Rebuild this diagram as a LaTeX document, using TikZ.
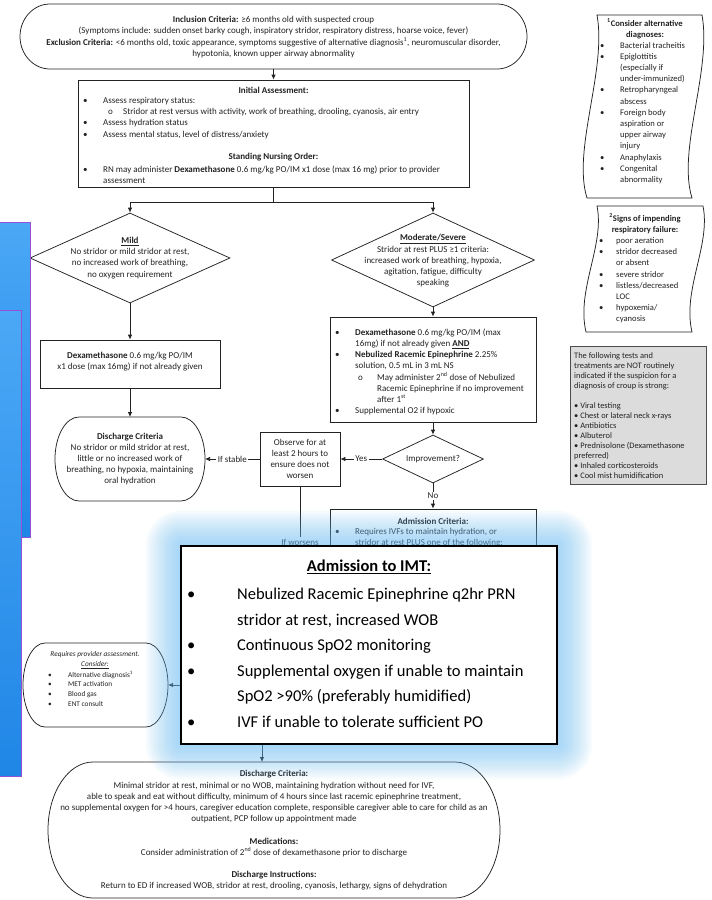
\documentclass[tikz,border=0pt]{standalone}
\usepackage{fontspec}
\setmainfont{Carlito}
\usetikzlibrary{arrows.meta,shapes.geometric,calc}

\definecolor{ink}{RGB}{35,35,35}
\definecolor{glowc}{RGB}{105,190,248}
\definecolor{panelTop}{RGB}{75,168,246}
\definecolor{panelBot}{RGB}{32,134,230}
\definecolor{purp}{RGB}{150,80,215}
\definecolor{notefill}{RGB}{220,220,220}

\newcommand\fcf{\fontsize{9}{11.2}\selectfont}
\newcommand\pnf{\fontsize{8.6}{11.2}\selectfont}
\newcommand\ntf{\fontsize{8.4}{10}\selectfont}
\newcommand\pvf{\fontsize{7.3}{9.6}\selectfont}
\newcommand\imf{\fontsize{16.5}{25.5}\selectfont}
\newcommand\bl[2][20pt]{\makebox[#1][l]{\textbullet}#2}

% terminator outline: name, x1, y1, x2, y2 (y measured downwards), end radius
\newcommand\stadium[6]{%
  \node[inner sep=0pt, outer sep=0pt, minimum width={#4-#2}, minimum height={#5-#3}]
    (#1) at ({(#2+#4)/2},{-(#3+#5)/2}) {};
  \draw[shapeline] ({#2+#6},{-#3}) -- ({#4-#6},{-#3})
    arc[start angle=90, end angle=-90, x radius=#6, y radius={(#5-#3)/2}]
    -- ({#2+#6},{-#5})
    arc[start angle=270, end angle=90, x radius=#6, y radius={(#5-#3)/2}] -- cycle;
}

\tikzset{
  shapeline/.style={draw=ink, line width=0.75pt, fill=white},
  conn/.style={draw=ink, line width=0.75pt},
  arr/.style={draw=ink, line width=0.75pt, -{Latex[length=5pt,width=4.5pt]}},
  fc/.style={font=\fcf, text=ink, inner sep=0pt, align=center},
  fcl/.style={font=\fcf, text=ink, inner sep=0pt, align=left},
  lab/.style={font=\fcf, text=ink, fill=white, inner sep=1.5pt},
  panelline/.style={draw=ink, line width=0.75pt, fill=white},
}

\begin{document}
\begin{tikzpicture}[x=1pt,y=1pt]
\useasboundingbox[fill=white] (0,0) rectangle (712,-900);

% ---------- inclusion / exclusion ----------
\stadium{incl}{20}{4}{527}{69}{30}
\node[fc] (inclt) at (273.5,-37) {\textbf{Inclusion Criteria:} ≥6 months old with suspected croup\\
(Symptoms include: sudden onset barky cough, inspiratory stridor, respiratory distress, hoarse voice, fever)\\
\textbf{Exclusion Criteria:} <6 months old, toxic appearance, symptoms suggestive of alternative diagnosis\textsuperscript{1}, neuromuscular disorder,\\
hypotonia, known upper airway abnormality};

% ---------- initial assessment ----------
\node[shapeline, minimum width=391pt, minimum height=107pt, inner sep=0pt] (init) at (273.5,-133.5) {};
\node[fc, font=\fcf\bfseries] (initt) at (273.5,-90) {Initial Assessment:};
\node[fcl, anchor=west] (initl) at (83,-118) {\bl{Assess respiratory status:}\\
\hspace*{25pt}\makebox[15pt][l]{o}Stridor at rest versus with activity, work of breathing, drooling, cyanosis, air entry\\
\bl{Assess hydration status}\\
\bl{Assess mental status, level of distress/anxiety}};
\node[fc, font=\fcf\bfseries] (snot) at (273.5,-157) {Standing Nursing Order:};
\node[fcl, anchor=west] (snol) at (83,-174.5) {\bl{RN may administer \textbf{Dexamethasone} 0.6 mg/kg PO/IM x1 dose (max 16 mg) prior to provider}\\
\hspace*{20pt}assessment};

% ---------- mild branch ----------
\node[shapeline, diamond, minimum width=200pt, minimum height=90pt, inner sep=0pt] (mild) at (130,-258) {};
\node[fc] (mildt) at (130,-258) {\textbf{\underline{Mild}}\\No stridor or mild stridor at rest,\\no increased work of breathing,\\no oxygen requirement};
\node[shapeline, minimum width=180pt, minimum height=48pt, inner sep=0pt] (mildbox) at (130,-364) {};
\node[fc] (mildboxt) at (130,-362) {\textbf{Dexamethasone} 0.6 mg/kg PO/IM\\x1 dose (max 16mg) if not already given};
\stadium{dis1}{55}{417}{205}{501}{24}
\node[fc] (dis1t) at (130,-459) {\textbf{Discharge Criteria}\\No stridor or mild stridor at rest,\\little or no increased work of\\breathing, no hypoxia, maintaining\\oral hydration};

% ---------- moderate / severe branch ----------
\node[shapeline, diamond, minimum width=203pt, minimum height=94pt, inner sep=0pt] (mod) at (433,-260) {};
\node[fc] (modt) at (433,-261) {\textbf{\underline{Moderate/Severe}}\\Stridor at rest PLUS ≥1 criteria:\\increased work of breathing, hypoxia,\\agitation, fatigue, difficulty\\speaking};
\node[shapeline, minimum width=206pt, minimum height=105pt, inner sep=0pt] (modbox) at (433,-369.5) {};
\node[fcl, anchor=west] (modl) at (335,-372) {\bl{\textbf{Dexamethasone} 0.6 mg/kg PO/IM (max}\\
\hspace*{20pt}16mg) if not already given \textbf{\underline{AND}}\\
\bl{\textbf{Nebulized Racemic Epinephrine} 2.25\%}\\
\hspace*{20pt}solution, 0.5 mL in 3 mL NS\\
\hspace*{23pt}\makebox[19pt][l]{o}May administer 2\textsuperscript{nd} dose of Nebulized\\
\hspace*{42pt}Racemic Epinephrine if no improvement\\
\hspace*{42pt}after 1\textsuperscript{st}\\
\bl{Supplemental O2 if hypoxic}};
\node[shapeline, diamond, minimum width=101pt, minimum height=48pt, inner sep=0pt] (imp) at (433,-459) {};
\node[fc] (impt) at (433,-459) {Improvement?};
\node[shapeline, minimum width=80pt, minimum height=54pt, inner sep=0pt] (obs) at (300,-459) {};
\node[fc] (obst) at (300,-459) {Observe for at\\least 2 hours to\\ensure does not\\worsen};
\node[shapeline, minimum width=206pt, minimum height=231pt, inner sep=0pt] (adm) at (433,-624.5) {};
\node[fc, font=\fcf\bfseries] (admt) at (433,-521) {Admission Criteria:};
\node[fcl, anchor=west] (adml) at (335,-537.5) {\bl{Requires IVFs to maintain hydration, or}\\
\hspace*{20pt}stridor at rest PLUS one of the following:};

% ---------- provider assessment ----------
\stadium{prov}{23}{643}{168}{727}{22}
\node[fc, font=\pvf\itshape] (provt) at (95,-660) {Requires provider assessment.\\\underline{Consider:}};
\node[fcl, font=\pvf, anchor=west] (provl) at (48,-688.5) {\bl{Alternative diagnosis\textsuperscript{1}}\\\bl{MET activation}\\\bl{Blood gas}\\\bl{ENT consult}};

% ---------- final discharge ----------
\stadium{dis2}{48}{762}{500}{898}{45}
\node[fc] (dis2t) at (274,-830.5) {\textbf{Discharge Criteria:}\\
Minimal stridor at rest, minimal or no WOB, maintaining hydration without need for IVF,\\
able to speak and eat without difficulty, minimum of 4 hours since last racemic epinephrine treatment,\\
no supplemental oxygen for >4 hours, caregiver education complete, responsible caregiver able to care for child as an\\
outpatient, PCP follow up appointment made\\[11.2pt]
\textbf{Medications:}\\
Consider administration of 2\textsuperscript{nd} dose of dexamethasone prior to discharge\\[11.2pt]
\textbf{Discharge Instructions:}\\
Return to ED if increased WOB, stridor at rest, drooling, cyanosis, lethargy, signs of dehydration};

% ---------- connectors ----------
\coordinate (split) at (273.5,-202);
\draw[arr] (incl.south) -- (init.north);
\draw[conn] (init.south) -- (split);
\draw[arr] (split) -| (mild.north);
\draw[arr] (split) -| (mod.north);
\draw[arr] (mild.south) -- (mildbox.north);
\draw[arr] (mildbox.south) -- (dis1.north);
\draw[arr] (mod.south) -- (modbox.north);
\draw[arr] (modbox.south) -- (imp.north);
\draw[arr] (imp.west) -- node[lab] (yes) {Yes} (obs.east);
\draw[arr] (obs.west) -- node[lab] (stable) {If stable} (dis1.east);
\draw[arr] (imp.south) -- node[lab] (no) {No} (adm.north);
\coordinate (wturn) at (obs.south |- prov.east);
\draw[arr] (obs.south) -- node[lab, pos=0.28] (worse) {If worsens} (wturn) -- (prov.east);
\coordinate (dsrc) at (262,-744);
\draw[arr] (dsrc) -- (dsrc |- dis2.north);

% ---------- side notes ----------
\draw[panelline] (597,-15) .. controls (607,-70) and (572,-150) .. (587,-198)
  -- (692,-198) .. controls (677,-150) and (712,-70) .. (702,-15) -- cycle;
\node[font=\pnf\bfseries, text=ink, align=center, inner sep=0pt] (altt) at (645,-29) {\textsuperscript{1}Consider alternative\\diagnoses:};
\node[font=\pnf, text=ink, align=left, inner sep=0pt, anchor=west] (altl) at (600,-113) {\bl{Bacterial tracheitis}\\
\bl{Epiglottitis}\\
\hspace*{20pt}(especially if\\
\hspace*{20pt}under-immunized)\\
\bl{Retropharyngeal}\\
\hspace*{20pt}abscess\\
\bl{Foreign body}\\
\hspace*{20pt}aspiration or\\
\hspace*{20pt}upper airway\\
\hspace*{20pt}injury\\
\bl{Anaphylaxis}\\
\bl{Congenital}\\
\hspace*{20pt}abnormality};

\draw[panelline] (597,-206) .. controls (605,-245) and (576,-290) .. (586,-332)
  -- (692,-332) .. controls (682,-290) and (711,-245) .. (703,-206) -- cycle;
\node[font=\pnf\bfseries, text=ink, align=center, inner sep=0pt] (respt) at (645,-223.5) {\textsuperscript{2}Signs of impending\\respiratory failure:};
\node[font=\pnf, text=ink, align=left, inner sep=0pt, anchor=west] (respl) at (599,-280.5) {\bl[17pt]{poor aeration}\\
\bl[17pt]{stridor decreased}\\
\hspace*{17pt}or absent\\
\bl[17pt]{severe stridor}\\
\bl[17pt]{listless/decreased}\\
\hspace*{17pt}LOC\\
\bl[17pt]{hypoxemia/}\\
\hspace*{17pt}cyanosis};

\node[draw=black!70, fill=notefill, line width=0.9pt, minimum width=136pt, minimum height=138pt, inner sep=0pt] (notind) at (638,-415) {};
\node[font=\ntf, text=ink, align=left, inner sep=0pt, anchor=west] (notindl) at (574,-416) {The following tests and\\
treatments are NOT routinely\\
indicated if the suspicion for a\\
diagnosis of croup is strong:\\[10pt]
\textbullet{} Viral testing\\
\textbullet{} Chest or lateral neck x-rays\\
\textbullet{} Antibiotics\\
\textbullet{} Albuterol\\
\textbullet{} Prednisolone (Dexamethasone\\
preferred)\\
\textbullet{} Inhaled corticosteroids\\
\textbullet{} Cool mist humidification};

% ---------- admission to IMT call-out with soft glow ----------
\node[inner sep=0pt, minimum width=376pt, minimum height=198pt] (imt) at (369,-645) {};
\foreach \k in {1,...,14} {
  \fill[glowc, opacity=0.055, rounded corners={\k*2.5pt}]
    ($(imt.south west)+(-\k*2.5,-\k*2.5)$) rectangle ($(imt.north east)+(\k*2.5,\k*2.5)$);
}
\draw[black, line width=1.6pt, fill=white] (imt.south west) rectangle (imt.north east);
\node[font=\imf\bfseries, inner sep=0pt] (imtt) at (369,-567) {\underline{Admission to IMT:}};
\node[font=\imf, align=left, anchor=west, inner sep=0pt] (imtl) at (187,-658) {\bl[50pt]{Nebulized Racemic Epinephrine q2hr PRN}\\
\hspace*{50pt}stridor at rest, increased WOB\\
\bl[50pt]{Continuous SpO2 monitoring}\\
\bl[50pt]{Supplemental oxygen if unable to maintain}\\
\hspace*{50pt}SpO2 >90\% (preferably humidified)\\
\bl[50pt]{IVF if unable to tolerate sufficient PO}};

% ---------- left colour strips ----------
\draw[purp, line width=1pt, top color=panelTop, bottom color=panelBot] (-2,-222) rectangle (30,-537);
\draw[purp, line width=1pt, top color=panelTop, bottom color=panelBot] (-2,-310) rectangle (21,-776);
\end{tikzpicture}
\end{document}
